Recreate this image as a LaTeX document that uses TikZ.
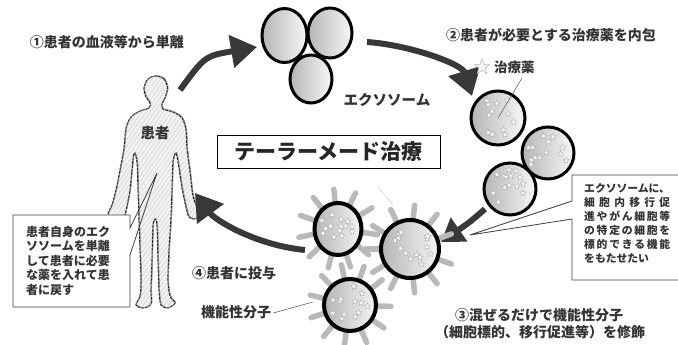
\documentclass[tikz,border=0pt]{standalone}
\usepackage{fontspec}
\setmainfont{Noto Sans CJK JP}
\usetikzlibrary{arrows.meta,shapes.geometric,patterns.meta}

\tikzset{
  flow/.style={line width=6pt, draw=black!78, -{Triangle[length=26pt,width=32pt]}},
  txt/.style={font=\fontsize{13.5}{16}\selectfont, text=black!80, inner sep=0pt},
  exo/.style={draw=black, line width=3pt, left color=gray!58, right color=gray!6},
  ring/.style={draw=black, line width=4pt, left color=gray!58, right color=gray!8},
  spike/.style={line width=5.5pt, draw=gray!55, line cap=round},
  ministar/.style={star, star points=5, star point ratio=2.3, minimum size=6.5pt,
    inner sep=0pt, fill=white, draw=gray!65, line width=0.35pt},
  callout/.style={draw=black!75, line width=0.8pt, line join=miter},
  leader/.style={draw=black!70, line width=0.5pt},
}

% scatter of small drug stars inside a vesicle: centre x, centre y, radius, seed
\newcommand\drugstars[4]{%
  \pgfmathsetseed{#4}%
  \foreach \k in {1,...,14}{%
    \pgfmathsetmacro\ang{360*rnd}%
    \pgfmathsetmacro\dst{#3*0.78*sqrt(rnd)}%
    \node[ministar] (st#4-\k) at ({#1+\dst*cos(\ang)},{#2+\dst*sin(\ang)}) {};
  }}

% radial rods of the functional molecules: centre x, centre y, radius, angle offset
\newcommand\rods[4]{%
  \foreach \a in {0,32,...,330}{%
    \draw[spike] ({#1+(#3-3)*cos(\a+#4)},{#2+(#3-3)*sin(\a+#4)})
      -- ({#1+(#3+15)*cos(\a+#4)},{#2+(#3+15)*sin(\a+#4)});
  }}

\begin{document}
\begin{tikzpicture}[x=1pt,y=-1pt]
\useasboundingbox (0,0) rectangle (678,345);

% ---- patient silhouette ----
\def\bodyoutline{plot[smooth cycle, tension=0.5] coordinates {
  (156,76) (164,79) (167.5,88) (165,98) (162,104) (163,109) (173,112) (182,118)
  (186,130) (187,148) (190,172) (193,196) (197,207) (200,215) (195,219) (189,217)
  (186,207) (182,188) (179,168) (176,153) (173,162) (172,190) (171,218) (169,250)
  (168,280) (170,296) (175,303) (168,308) (161,305) (159,290) (158,260) (157,226)
  (155,219) (153,226) (152,260) (151,290) (151,304) (143,308) (136,305) (140,296)
  (141,280) (140,250) (139,220) (138,190) (137,162) (134,153) (132,170) (130,190)
  (127,206) (124,217) (117,220) (108,215) (112,205) (116,190) (120,170) (124,148)
  (126,128) (131,117) (140,111) (149,108) (150,103) (146,97) (144,88) (148,79)}}
\path[preaction={fill=gray!10},
      pattern={Lines[angle=55,distance=3.5pt,line width=0.5pt]}, pattern color=gray!35]
  \bodyoutline;
\draw[black!85, line width=1.1pt, dash pattern=on 3pt off 0.8pt] \bodyoutline;
\draw[black!55, line width=0.5pt, xshift=0.7pt, yshift=0.5pt] \bodyoutline;
\node[txt, font=\fontsize{14.5}{16}\selectfont\bfseries] (patient) at (155,133) {患者};

% ---- cycle arrows ----
\coordinate (a1s) at (180,90);  \coordinate (a1e) at (257,47);
\coordinate (a2s) at (367,42);  \coordinate (a2e) at (472,96);
\coordinate (a3s) at (485,209); \coordinate (a3e) at (441,242);
\coordinate (a4s) at (305,250); \coordinate (a4e) at (195,193);
\draw[flow] (a1s) .. controls (205,56) .. (a1e);
\draw[flow] (a2s) .. controls (410,45) and (462,64) .. (a2e);
\draw[flow, -{Triangle[length=22pt,width=28pt]}] (a3s) .. controls (470,222) .. (a3e);
\draw[flow] (a4s) .. controls (255,245) and (215,220) .. (a4e);

% ---- isolated exosomes ----
\draw[exo] (284.5,35.5) ellipse [x radius=22.5pt, y radius=27pt];
\draw[exo] (330,33) ellipse [x radius=22pt, y radius=25pt];
\draw[exo] (311,79) ellipse [x radius=21pt, y radius=24pt];
\node[txt, font=\fontsize{14.5}{16}\selectfont\bfseries] (exolbl) at (387,100) {エクソソーム};

% ---- drug-loaded exosomes ----
\draw[exo] (498,118) circle [radius=27pt];
\draw[exo] (548,153) circle [radius=26pt];
\draw[exo] (510,189) circle [radius=26pt];
\drugstars{498}{118}{27}{11}
\drugstars{548}{153}{26}{23}
\drugstars{510}{189}{26}{37}
\node[star, star points=5, star point ratio=2.4, minimum size=16pt, inner sep=0pt,
      fill=gray!8, draw=gray!60, line width=0.5pt] (drugstar) at (482,67) {};
\node[txt, anchor=west, font=\fontsize{13.5}{16}\selectfont\bfseries] (druglbl) at (494,67) {治療薬};
\coordinate (drugtip) at (498,118);
\draw[leader] (522,78) -- (drugtip);

% ---- functionalised exosomes ----
\rods{338}{229}{25}{8}
\rods{410}{249}{29}{20}
\rods{350}{305}{26}{2}
\draw[ring] (338,229) ellipse [x radius=23.5pt, y radius=26pt];
\draw[ring] (410,249) circle [radius=29pt];
\draw[ring] (350,305) circle [radius=26pt];
\drugstars{338}{229}{24}{51}
\drugstars{410}{249}{28}{67}
\drugstars{350}{305}{25}{83}
\draw[gray!35, line width=0.6pt] (378,187) -- (393,205);
\node[txt, font=\fontsize{14}{16}\selectfont\bfseries] (fmol) at (236,312) {機能性分子};
\coordinate (rodtip) at (313,302);
\draw[leader] (fmol.east) ++(2,1) -- (rodtip);

% ---- step labels ----
\tikzset{steplbl/.style={txt, font=\fontsize{14}{16}\selectfont\bfseries}}
\node[steplbl] (step1) at (107,42) {①患者の血液等から単離};
\node[steplbl] (step2) at (551,35) {②患者が必要とする治療薬を内包};
\node[steplbl] (step3) at (539,315) {③混ぜるだけで機能性分子};
\node[steplbl] (step3b) at (540,332) {（細胞標的、移行促進等）を修飾};
\node[steplbl] (step4) at (234,273) {④患者に投与};

% ---- title ----
\node[draw=black, line width=1pt, minimum width=223pt, minimum height=33pt,
      font=\fontsize{21}{24}\selectfont\bfseries, text=black!85] (title) at (328.5,151.5)
  {テーラーメード治療};

% ---- left callout ----
\fill[white] (13,215) rectangle (130,307);
\coordinate (lptip) at (157,173);
\draw[callout] (130,228) -- (130,215) -- (13,215) -- (13,307) -- (130,307) -- (130,255)
  -- (lptip) -- cycle;
\node[txt, anchor=north west, align=left, font=\fontsize{12}{14.4}\selectfont\bfseries]
  (lnote) at (26,226)
  {患者自身のエク\\ソソームを単離\\して患者に必要\\な薬を入れて患\\者に戻す};

% ---- right callout ----
\fill[white] (572,175) rectangle (679,280);
\coordinate (rptip) at (470,235);
\draw[callout] (679,175) -- (572,175) -- (572,201) -- (rptip) -- (572,219)
  -- (572,280) -- (679,280);
\node[txt, anchor=north west, align=left, font=\fontsize{10.8}{14}\selectfont\bfseries]
  (rnote) at (584,183.5)
  {\makebox[86pt][s]{エクソソームに、}\\
   \makebox[86pt][s]{細\hfill 胞\hfill 内\hfill 移\hfill 行\hfill 促}\\
   \makebox[86pt][s]{進\hfill や\hfill が\hfill ん\hfill 細\hfill 胞\hfill 等}\\
   \makebox[86pt][s]{の\hfill 特\hfill 定\hfill の\hfill 細\hfill 胞\hfill を}\\
   \makebox[86pt][s]{標\hfill 的\hfill で\hfill き\hfill る\hfill 機\hfill 能}\\
   をもたせたい};
\end{tikzpicture}
\end{document}
